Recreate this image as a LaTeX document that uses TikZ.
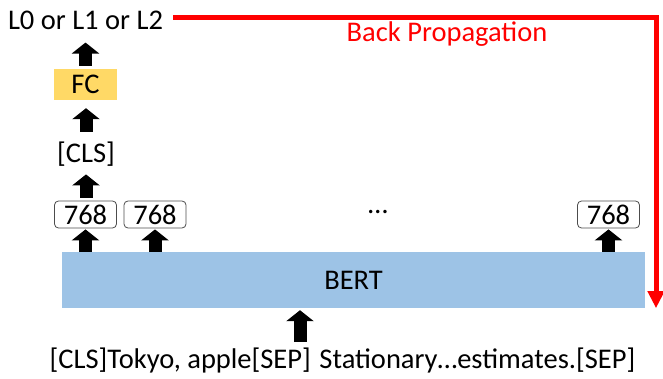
\documentclass[tikz,border=0pt]{standalone}
\usepackage{fontspec}
\setmainfont{Carlito}
\usetikzlibrary{arrows.meta,calc}
\definecolor{fcgold}{HTML}{FFD966}
\definecolor{bertblue}{HTML}{9DC3E6}
\definecolor{bpred}{HTML}{FF0000}
\tikzset{
  bigfont/.style={font=\fontsize{28.5}{32}\selectfont},
  txt/.style={inner sep=0pt, bigfont},
  vecbox/.style={draw=black!70, line width=0.8pt, rounded corners=4pt,
    minimum width=62pt, minimum height=27pt, inner sep=0pt, bigfont},
  blockarrow/.style={line width=13pt, draw=black,
    -{Triangle[width=27pt,length=11pt]}},
  backprop/.style={line width=5pt, draw=bpred,
    -{Triangle[width=16pt,length=17pt]}}
}
\begin{document}
\begin{tikzpicture}[x=1pt,y=-1pt]
  \useasboundingbox (0,0) rectangle (663,379);
  % output label and classifier head
  \node[txt] (lbl) at (85.5,20) {L0 or L1 or L2};
  \node[fill=fcgold, minimum width=63pt, minimum height=31pt, inner sep=0pt,
        bigfont] (fc) at (85.5,84.5) {FC};
  \node[txt] (cls) at (86,154) {[CLS]};
  % token output vectors
  \node[vecbox] (b1) at (85.5,214.5) {768};
  \node[vecbox] (b2) at (155,214.5) {768};
  \node[txt] (dots) at (378,212) {\dots};
  \node[vecbox] (b3) at (608.5,214.5) {768};
  % encoder
  \node[fill=bertblue, minimum width=583pt, minimum height=56pt, inner sep=0pt,
        bigfont] (bert) at (353.5,280) {BERT};
  % input sequence
  \node[txt] (inp) at (342.5,360) {[CLS]Tokyo, apple[SEP]\hspace{0.3em}Stationary\dots estimates.[SEP]};
  % upward flow
  \draw[blockarrow, shorten <=3pt, shorten >=13pt] (fc.north) -- (fc.north |- lbl.south);
  \draw[blockarrow, shorten <=10pt, shorten >=8pt] (cls.north) -- (cls.north |- fc.south);
  \draw[blockarrow, shorten <=3pt, shorten >=8pt] (cls.south |- b1.north) -- (cls.south);
  \draw[blockarrow, shorten >=1pt] (bert.north -| b1.south) -- (b1.south);
  \draw[blockarrow, shorten >=1pt] (bert.north -| b2.south) -- (b2.south);
  \draw[blockarrow, shorten >=1pt] (bert.north -| b3.south) -- (b3.south);
  \draw[blockarrow, shorten <=5pt, shorten >=2pt] (inp.north -| 300,0) -- (bert.south -| 300,0);
  % gradient path
  \coordinate (corner) at (656,18);
  \draw[backprop] ($(lbl.east |- corner)+(10,0)$) -- (corner) -- (corner |- bert.south);
  \node[txt, text=bpred] (bp) at (447,34) {Back Propagation};
\end{tikzpicture}
\end{document}
